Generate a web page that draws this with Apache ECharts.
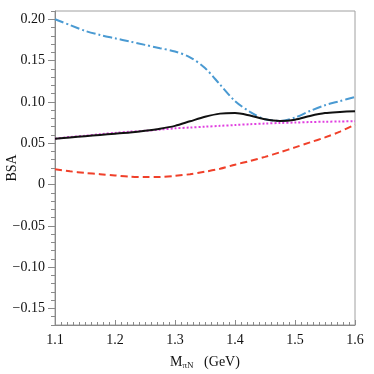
<!DOCTYPE html>
<html>
<head>
<meta charset="utf-8">
<script src="https://cdn.jsdelivr.net/npm/echarts@6/dist/echarts.min.js"></script>
<style>html,body{margin:0;padding:0;background:#fff}#c{width:374px;height:374px}</style>
</head>
<body>
<div id="c"></div>
<script>
const xValues = [1.100,1.125,1.150,1.175,1.200,1.225,1.250,1.275,1.300,1.325,1.350,1.375,1.400,1.425,1.450,1.475,1.500,1.525,1.550,1.575,1.600];
const blueDashDot = [0.200,0.193,0.186,0.181,0.177,0.173,0.169,0.165,0.161,0.154,0.141,0.121,0.101,0.088,0.079,0.077,0.081,0.089,0.096,0.101,0.106];
const blackSolid = [0.0555,0.057,0.0585,0.060,0.0615,0.063,0.065,0.0675,0.071,0.0765,0.082,0.0858,0.0865,0.0835,0.079,0.077,0.0785,0.083,0.0865,0.0878,0.0888];
const magentaDotted = [0.0555,0.0575,0.059,0.061,0.0625,0.064,0.065,0.0665,0.068,0.069,0.070,0.071,0.072,0.073,0.0738,0.0745,0.075,0.0756,0.076,0.0763,0.0766];
const redDashed = [0.0185,0.016,0.014,0.0125,0.011,0.0095,0.009,0.0092,0.0105,0.0125,0.0155,0.019,0.024,0.0285,0.0335,0.039,0.045,0.051,0.057,0.064,0.0726];
const xMajorTicks = [1.1,1.2,1.3,1.4,1.5,1.6];
const xMinorTicks = [1.11,1.12,1.13,1.14,1.15,1.16,1.17,1.18,1.19,1.21,1.22,1.23,1.24,1.25,1.26,1.27,1.28,1.29,1.31,1.32,1.33,1.34,1.35,1.36,1.37,1.38,1.39,1.41,1.42,1.43,1.44,1.45,1.46,1.47,1.48,1.49,1.51,1.52,1.53,1.54,1.55,1.56,1.57,1.58,1.59];
const yMajorTicks = [-0.15,-0.10,-0.05,0,0.05,0.10,0.15,0.20];
const yMinorTicks = [-0.17,-0.16,-0.14,-0.13,-0.12,-0.11,-0.09,-0.08,-0.07,-0.06,-0.04,-0.03,-0.02,-0.01,0.01,0.02,0.03,0.04,0.06,0.07,0.08,0.09,0.11,0.12,0.13,0.14,0.16,0.17,0.18,0.19,0.21];

function pairs(ys){ return xValues.map((x,i)=>[x,ys[i]]); }
function fmtY(v){
  if (Math.abs(v) < 1e-9) return '0';
  const s = Math.abs(v).toFixed(2);
  return (v < 0 ? '\u2212' : '') + s;
}
const axisColor = '#8a8a8a';
const font = '"Liberation Serif", serif';
const chart = echarts.init(document.getElementById('c'));
chart.setOption({
  animation: false,
  backgroundColor: '#fff',
  grid: {left: 55, right: 19, top: 11, bottom: 49, containLabel: false, outerBoundsMode: 'none', show: true, borderColor: '#a0a0a0', borderWidth: 1, backgroundColor: 'transparent'},
  xAxis: [{
    type: 'value', min: 1.1, max: 1.6,
    axisLine: {show: true, onZero: false, lineStyle: {color: axisColor, width: 1}},
    axisTick: {show: true, inside: true, length: 5, customValues: xMajorTicks, lineStyle: {color: axisColor}},
    splitLine: {show: false},
    axisLabel: {color: '#111', fontFamily: font, fontSize: 14, margin: 8, customValues: xMajorTicks, formatter: v => v.toFixed(1)},
    name: '{m|M}{s|\u03c0N}{g|   (GeV)}',
    nameLocation: 'middle', nameGap: 30, nameMoveOverlap: false,
    nameTextStyle: {
      rich: {
        m: {fontFamily: font, fontSize: 14, color: '#111'},
        s: {fontFamily: font, fontSize: 9, color: '#111', verticalAlign: 'bottom', padding: [6,0,0,0]},
        g: {fontFamily: font, fontSize: 14, color: '#111'}
      }
    }
  }, {
    type: 'value', min: 1.1, max: 1.6, position: 'bottom', offset: 0,
    axisLine: {show: false, onZero: false},
    axisTick: {show: true, inside: true, length: 3, customValues: xMinorTicks, lineStyle: {color: axisColor}},
    axisLabel: {show: false},
    splitLine: {show: false}
  }],
  yAxis: [{
    type: 'value', min: -0.17, max: 0.21,
    axisLine: {show: true, onZero: false, lineStyle: {color: axisColor, width: 1}},
    axisTick: {show: true, inside: false, length: 7, customValues: yMajorTicks, lineStyle: {color: axisColor}},
    splitLine: {show: false},
    axisLabel: {color: '#111', fontFamily: font, fontSize: 14, margin: 10, customValues: yMajorTicks, formatter: fmtY},
    name: 'BSA', nameLocation: 'middle', nameGap: 36, nameMoveOverlap: false,
    nameTextStyle: {fontFamily: font, fontSize: 14, color: '#111'}
  }, {
    type: 'value', min: -0.17, max: 0.21, position: 'left', offset: 0,
    axisLine: {show: false, onZero: false},
    axisTick: {show: true, inside: false, length: 4, customValues: yMinorTicks, lineStyle: {color: axisColor}},
    axisLabel: {show: false},
    splitLine: {show: false}
  }],
  series: [
    {type: 'line', data: pairs(redDashed), smooth: 0.3, symbol: 'none', lineStyle: {color: '#f0402a', width: 2, type: [7,4]}},
    {type: 'line', data: pairs(magentaDotted), smooth: 0.3, symbol: 'none', lineStyle: {color: '#e040e0', width: 2, type: [2,2]}},
    {type: 'line', data: pairs(blueDashDot), smooth: 0.3, symbol: 'none', lineStyle: {color: '#4a9ad2', width: 2, type: [9,3,2,3]}},
    {type: 'line', data: pairs(blackSolid), smooth: 0.3, symbol: 'none', lineStyle: {color: '#111', width: 2}}
  ]
});
</script>
</body>
</html>
